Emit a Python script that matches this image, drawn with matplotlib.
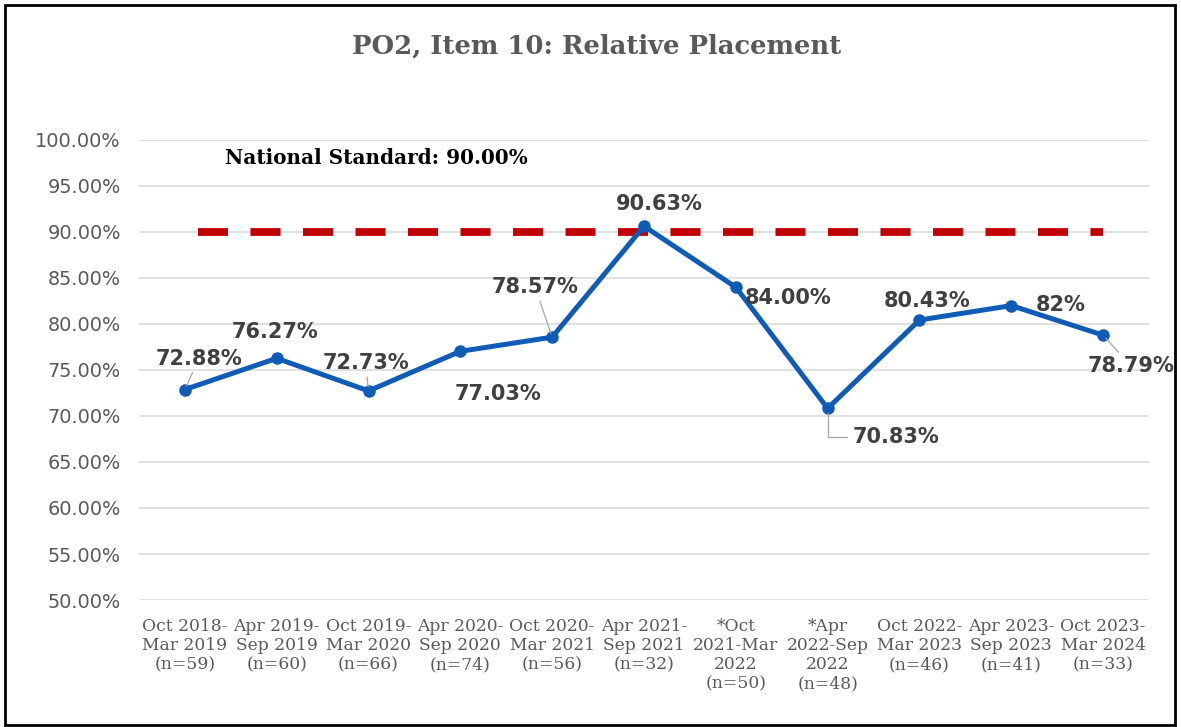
import matplotlib
matplotlib.use("Agg")
import matplotlib.pyplot as plt
from matplotlib.patches import Rectangle

categories = [
    "Oct 2018-\nMar 2019\n(n=59)",
    "Apr 2019-\nSep 2019\n(n=60)",
    "Oct 2019-\nMar 2020\n(n=66)",
    "Apr 2020-\nSep 2020\n(n=74)",
    "Oct 2020-\nMar 2021\n(n=56)",
    "Apr 2021-\nSep 2021\n(n=32)",
    "*Oct\n2021-Mar\n2022\n(n=50)",
    "*Apr\n2022-Sep\n2022\n(n=48)",
    "Oct 2022-\nMar 2023\n(n=46)",
    "Apr 2023-\nSep 2023\n(n=41)",
    "Oct 2023-\nMar 2024\n(n=33)",
]
values = [72.88, 76.27, 72.73, 77.03, 78.57, 90.63, 84.00, 70.83, 80.43, 82.0, 78.79]
value_labels = ["72.88%", "76.27%", "72.73%", "77.03%", "78.57%", "90.63%",
                "84.00%", "70.83%", "80.43%", "82%", "78.79%"]
national_standard = 90.0
yticks = [50, 55, 60, 65, 70, 75, 80, 85, 90, 95, 100]

# label offsets in pixels (dx, dy), and whether a leader line is drawn
label_offsets = [(14, 31), (-2, 26), (-3, 28), (38, -43), (-17, 50), (15, 22),
                 (52, -11), (68, -29), (8, 19), (49, 1), (28, -31)]
leaders = [True, False, True, False, True, False, False, "elbow", False, False, True]

fig = plt.figure(figsize=(11.81, 7.27), dpi=100)
ax = fig.add_axes([139/1181, 1-600/727, (1149-139)/1181, (600-140)/727])

x = list(range(len(categories)))

# grid
for yv in yticks:
    ax.axhline(yv, color="#D9D9D9", lw=1.1, zorder=0)

# national standard dashed line
ax.plot(x, [national_standard]*len(x), color="#C00000", lw=5.6,
        linestyle=(5.08, (3.86, 2.89)), solid_capstyle="butt",
        dash_capstyle="butt", zorder=2)

# data line
ax.plot(x, values, color="#0F5CB6", lw=3.6, marker="o", markersize=8,
        zorder=3)

for i, (v, lab) in enumerate(zip(values, value_labels)):
    dx, dy = label_offsets[i]
    kw = {}
    if leaders[i] is True:
        kw["arrowprops"] = dict(arrowstyle="-", color="#A6A6A6", lw=0.9,
                                shrinkA=1, shrinkB=3)
    elif leaders[i] == "elbow":
        kw["arrowprops"] = dict(arrowstyle="-", color="#A6A6A6", lw=0.9,
                                shrinkA=2, shrinkB=3,
                                connectionstyle="angle,angleA=0,angleB=90,rad=0")
    ax.annotate(lab, xy=(i, v), xytext=(dx, dy), textcoords="offset pixels",
                ha="center", va="center", fontsize=15, fontweight="bold",
                color="#404040", family="DejaVu Sans", zorder=5, **kw)

ax.set_xlim(-0.5, len(categories) - 0.5)
ax.set_ylim(50, 100)
ax.set_yticks(yticks)
ax.set_yticklabels([f"{t:.2f}%" for t in yticks], fontsize=13.9,
                   color="#595959", family="DejaVu Sans")
ax.set_xticks(x)
ax.set_xticklabels(categories, fontsize=12.3, color="#595959",
                   family="DejaVu Serif", linespacing=1.15)
ax.tick_params(axis="both", length=0)
ax.tick_params(axis="y", pad=13)
ax.tick_params(axis="x", pad=13)
for s in ax.spines.values():
    s.set_visible(False)

fig.text(597/1181, 1-46/727, "PO2, Item 10: Relative Placement",
         ha="center", va="center", fontsize=18.6, fontweight="bold",
         color="#595959", family="DejaVu Serif")
fig.text(225/1181, 1-158/727, "National Standard: 90.00%",
         ha="left", va="center", fontsize=14.4, fontweight="bold",
         color="#000000", family="DejaVu Serif")

fig.patches.append(Rectangle((5/1181, 2/727), 1170/1181, 720/727,
                             transform=fig.transFigure, fill=False,
                             edgecolor="black", lw=2))

fig.savefig("out.png", dpi=100)
